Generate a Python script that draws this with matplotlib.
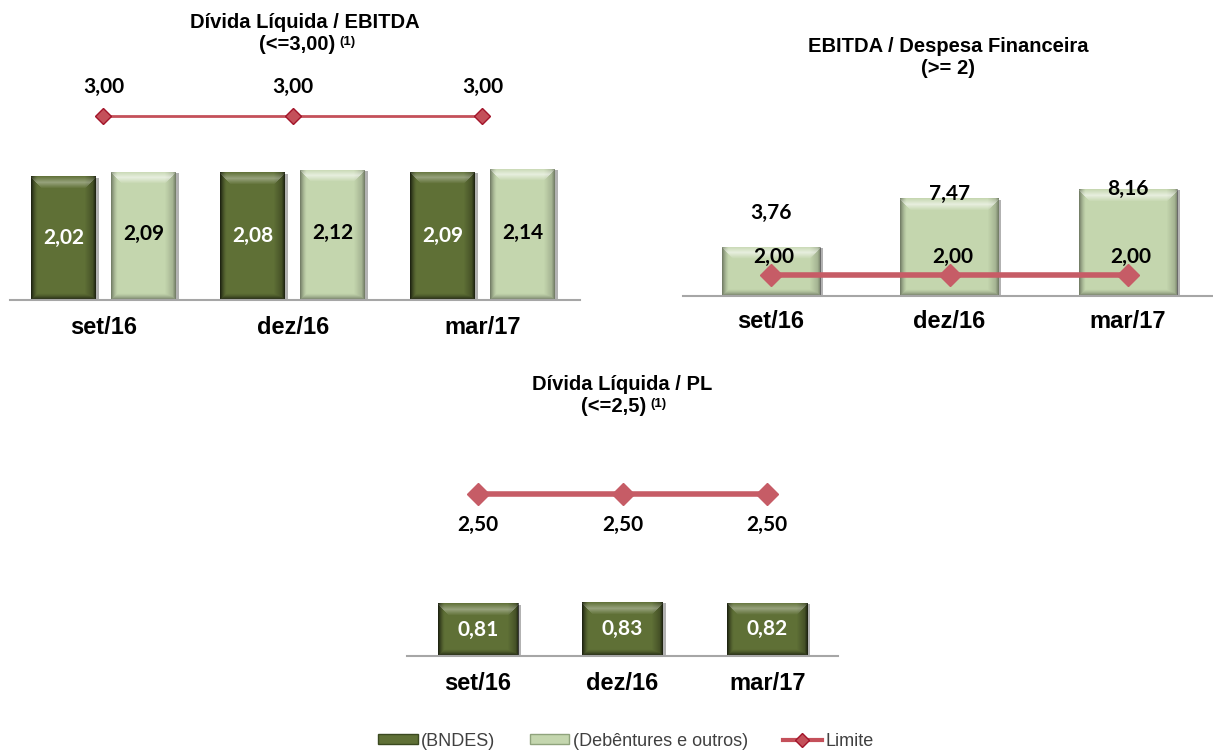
import matplotlib
matplotlib.use('Agg')
import numpy as np
import matplotlib.pyplot as plt
from matplotlib.lines import Line2D
from matplotlib.patches import Patch
import matplotlib.patheffects as pe

# ---------------- data ----------------
categories = ['set/16', 'dez/16', 'mar/17']
dl_ebitda_bndes = [2.02, 2.08, 2.09]
dl_ebitda_deb = [2.09, 2.12, 2.14]
dl_ebitda_limit = [3.00, 3.00, 3.00]
ebitda_desp = [3.76, 7.47, 8.16]
ebitda_desp_limit = [2.00, 2.00, 2.00]
dl_pl = [0.81, 0.83, 0.82]
dl_pl_limit = [2.50, 2.50, 2.50]

legend_labels = ['(BNDES)', '(Debêntures e outros)', 'Limite']

# ---------------- style ----------------
DARK = '#5f7036'
DARK_EDGE = '#3b4920'
LIGHT = '#c4d6ae'
LIGHT_EDGE = '#8fa37c'
LINE1 = '#c4505a'
LINE1_EDGE = '#a3142a'
LINE2 = '#c65c66'
AXIS = '#a6a6a6'
NUMFONT = ['Lato', 'DejaVu Sans']
TXTFONT = ['Liberation Sans', 'DejaVu Sans']

W, H = 1213, 751
fig = plt.figure(figsize=(W / 100, H / 100), dpi=100)


def fmt(v):
    return f"{v:.2f}".replace('.', ',')


def ax_px(x0, x1, ybase, ytop):
    ax = fig.add_axes([x0 / W, 1 - ybase / H, (x1 - x0) / W, (ybase - ytop) / H])
    ax.set_xticks([])
    ax.set_yticks([])
    for s in ['top', 'left', 'right']:
        ax.spines[s].set_visible(False)
    ax.spines['bottom'].set_color(AXIS)
    ax.spines['bottom'].set_linewidth(1.5)
    ax.spines['bottom'].set_zorder(5)
    ax.patch.set_alpha(0)
    return ax


shadow = [pe.SimplePatchShadow(offset=(2, -1), shadow_rgbFace='#000000', alpha=0.3), pe.Normal()]


def bevel(ax, bar, dark_alpha, light_alpha, bev=7):
    x0, y0 = bar.get_x(), bar.get_y()
    w, h = bar.get_width(), bar.get_height()
    p0 = ax.transData.transform((x0, y0))
    p1 = ax.transData.transform((x0 + w, y0 + h))
    wp = max(int(round(p1[0] - p0[0])), 2)
    hp = max(int(round(p1[1] - p0[1])), 2)
    yy, xx = np.mgrid[0:hp, 0:wp]
    dl = xx + 0.5
    dr = wp - xx - 0.5
    dt = yy + 0.5
    db = hp - yy - 0.5
    side = np.minimum(np.minimum(dl, dr), db)
    dark = np.clip(1 - side / bev, 0, 1) ** 1.5
    dark = np.maximum(dark, 0.5 * np.clip(1 - dr / (bev * 1.6), 0, 1))
    light = np.clip(1 - np.abs(dt - bev * 0.9) / (bev * 0.9), 0, 1) * (dt < side + 2)
    img_d = np.zeros((hp, wp, 4))
    img_d[..., 3] = dark * dark_alpha
    img_l = np.ones((hp, wp, 4))
    img_l[..., 3] = light * light_alpha
    ext = (x0, x0 + w, y0, y0 + h)
    for img in (img_d, img_l):
        im = ax.imshow(img, extent=ext, aspect='auto', origin='upper',
                       interpolation='bilinear', zorder=2.5)
        im.set_clip_path(bar)


def bevel_bars(ax, x, vals, width, face, dark_alpha, light_alpha):
    bars = ax.bar(x, vals, width, color=face, linewidth=0, zorder=2)
    for b in bars:
        b.set_path_effects(shadow)
    for b in bars:
        bevel(ax, b, dark_alpha, light_alpha)
    return bars


def cat_labels(ax, x, offset):
    for xi, c in zip(x, categories):
        ax.annotate(c, xy=(xi, 0), xycoords=('data', 'axes fraction'),
                    xytext=(0, -offset), textcoords='offset pixels',
                    ha='center', va='center', fontsize=17, fontweight='bold',
                    family=TXTFONT, color='black', annotation_clip=False)


x = np.arange(len(categories))

# ---------------- Top-left: Dívida Líquida / EBITDA ----------------
ax1 = ax_px(10, 580, 300, 100)
ax1.set_xlim(-0.493, 2.515)
ax1.set_ylim(0, 200 / 61.33)
off = 0.211
bw = 0.343
bevel_bars(ax1, x - off, dl_ebitda_bndes, bw, DARK, 0.75, 0.35)
bevel_bars(ax1, x + off, dl_ebitda_deb, bw, LIGHT, 0.45, 0.6)
for xi, v in zip(x, dl_ebitda_bndes):
    ax1.text(xi - off, v / 2, fmt(v), ha='center', va='center', color='white',
             fontsize=15, fontweight='bold', family=NUMFONT, zorder=3)
for xi, v in zip(x, dl_ebitda_deb):
    ax1.text(xi + off, v / 2 + 0.03, fmt(v), ha='center', va='center', color='black',
             fontsize=15, fontweight='bold', family=NUMFONT, zorder=3)
ax1.plot(x, dl_ebitda_limit, color=LINE1, lw=2, marker='D', ms=8,
         mfc=LINE1, mec=LINE1_EDGE, mew=1, zorder=4, clip_on=False)
for xi, v in zip(x, dl_ebitda_limit):
    ax1.annotate(fmt(v), xy=(xi, v), xytext=(0, 29), textcoords='offset pixels',
                 ha='center', va='center', fontsize=15, fontweight='bold',
                 family=NUMFONT, annotation_clip=False)
cat_labels(ax1, x, 28)

# ---------------- Top-right: EBITDA / Despesa Financeira ----------------
ax2 = ax_px(683, 1213, 296, 100)
ax2.set_xlim(-0.493, 2.476)
ax2.set_ylim(0, 196 / 13.1)
bevel_bars(ax2, x, ebitda_desp, 0.55, LIGHT, 0.45, 0.6)
val_offsets = [34, 4, 0]
for xi, v, o in zip(x, ebitda_desp, val_offsets):
    ax2.annotate(fmt(v), xy=(xi, v), xytext=(0, o), textcoords='offset pixels',
                 ha='center', va='center', fontsize=15, fontweight='bold',
                 family=NUMFONT, annotation_clip=False, zorder=5)
ax2b = ax2.twinx()
ax2b.set_ylim(0, 196 / 10.5)
ax2b.set_yticks([])
for s in ax2b.spines.values():
    s.set_visible(False)
ax2b.plot(x, ebitda_desp_limit, color=LINE2, lw=4, marker='D', ms=11,
          mfc=LINE2, mec=LINE2, zorder=4, clip_on=False)
for xi, v in zip(x, ebitda_desp_limit):
    ax2b.annotate(fmt(v), xy=(xi, v), xytext=(3, 18), textcoords='offset pixels',
                  ha='center', va='center', fontsize=15, fontweight='bold',
                  family=NUMFONT, annotation_clip=False)
cat_labels(ax2, x, 26)

# ---------------- Bottom: Dívida Líquida / PL ----------------
ax3 = ax_px(407, 838, 656, 450)
ax3.set_xlim(-0.491, 2.49)
ax3.set_ylim(0, 206 / 65)
bevel_bars(ax3, x, dl_pl, 0.56, DARK, 0.75, 0.35)
for xi, v in zip(x, dl_pl):
    ax3.text(xi, v / 2, fmt(v), ha='center', va='center', color='white',
             fontsize=15, fontweight='bold', family=NUMFONT, zorder=3)
ax3.plot(x, dl_pl_limit, color=LINE2, lw=4, marker='D', ms=11,
         mfc=LINE2, mec=LINE2, zorder=4, clip_on=False)
for xi, v in zip(x, dl_pl_limit):
    ax3.annotate(fmt(v), xy=(xi, v), xytext=(0, -31), textcoords='offset pixels',
                 ha='center', va='center', fontsize=15, fontweight='bold',
                 family=NUMFONT, annotation_clip=False)
cat_labels(ax3, x, 27)

# ---------------- Titles ----------------
def title(xc, y1, line1, line2, sup=None, dx=0):
    fig.text(xc / W, 1 - y1 / H, line1, ha='center', va='center', fontsize=14.5,
             fontweight='bold', family=TXTFONT)
    t = fig.text((xc + dx) / W, 1 - (y1 + 22) / H, line2, ha='center', va='center',
                 fontsize=14.5, fontweight='bold', family=TXTFONT)
    if sup:
        fig.canvas.draw()
        bb = t.get_window_extent()
        fig.text((bb.x1 + 4) / W, (bb.y1 - 1) / H, sup, ha='left', va='top',
                 fontsize=9.5, fontweight='bold', family=TXTFONT)


title(305, 22, 'Dívida Líquida / EBITDA', '(<=3,00)', '(1)', dx=-8)
title(948, 46, 'EBITDA / Despesa Financeira', '(>= 2)')
title(622, 385, 'Dívida Líquida / PL', '(<=2,5)', '(1)', dx=-8)

# ---------------- Legend ----------------
handles = [
    Patch(facecolor=DARK, edgecolor=DARK_EDGE, linewidth=1),
    Patch(facecolor=LIGHT, edgecolor=LIGHT_EDGE, linewidth=1),
    Line2D([0], [0], color=LINE1, lw=3, marker='D', ms=7, mfc=LINE1, mec=LINE1_EDGE),
]
fig.legend(handles, legend_labels, loc='center', bbox_to_anchor=(626 / W, 1 - 741 / H),
           ncol=3, frameon=False, prop={'family': TXTFONT, 'size': 13},
           labelcolor='#404040', handlelength=2.2, handleheight=0.4,
           handletextpad=0.2, columnspacing=1.9)

fig.savefig('out.png', dpi=100)
